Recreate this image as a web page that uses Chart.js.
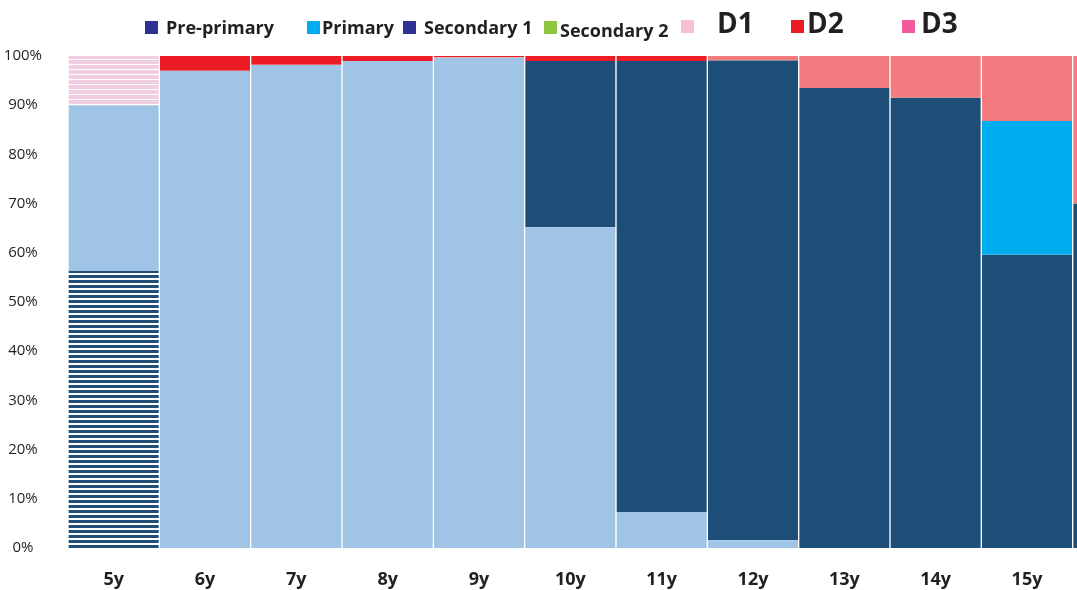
<!DOCTYPE html>
<html>
<head>
<meta charset="utf-8">
<script src="https://cdn.jsdelivr.net/npm/chart.js@4"></script>
<style>
  html, body { margin: 0; padding: 0; background: #fff; overflow: hidden; }
  #wrap { position: relative; width: 1077px; height: 590px; overflow: hidden; }
  #chart { position: absolute; left: 0; top: 0; }
  .lg { position: absolute; font-family: 'Open Sans', sans-serif; font-weight: 700; color: #231f20; white-space: nowrap; line-height: 1; }
  .sw { position: absolute; width: 13px; height: 13px; top: 21px; }
</style>
</head>
<body>
<div id="wrap">
  <canvas id="chart" width="1164" height="590"></canvas>
  <div class="sw" style="left:145px;background:#2e3192"></div>
  <div class="lg" style="left:166px;top:18px;font-size:18px">Pre-primary</div>
  <div class="sw" style="left:307px;background:#00aeef"></div>
  <div class="lg" style="left:322px;top:18px;font-size:18px">Primary</div>
  <div class="sw" style="left:403px;background:#2e3192"></div>
  <div class="lg" style="left:424px;top:18px;font-size:18px">Secondary 1</div>
  <div class="sw" style="left:544px;background:#8dc63f"></div>
  <div class="lg" style="left:560px;top:21px;font-size:18px">Secondary 2</div>
  <div class="sw" style="left:681px;top:20px;background:#f7bfd8"></div>
  <div class="lg" style="left:717px;top:8px;font-size:28px">D1</div>
  <div class="sw" style="left:791px;top:20px;background:#ed1c24"></div>
  <div class="lg" style="left:807px;top:8px;font-size:28px">D2</div>
  <div class="sw" style="left:902px;top:20px;background:#f15a9c"></div>
  <div class="lg" style="left:921px;top:8px;font-size:28px">D3</div>
</div>
<script>
// categories (last one is only partly visible at the right edge)
const ages = ['5y', '6y', '7y', '8y', '9y', '10y', '11y', '12y', '13y', '14y', '15y', '16y'];
const yTicks = [0, 10, 20, 30, 40, 50, 60, 70, 80, 90, 100];

// shares in %, stacked bottom-up
const hatchDark = [56.3, 0, 0, 0, 0, 0, 0, 0, 0, 0, 0, 0];
const lightBlue = [33.7, 97, 98.2, 99, 99.7, 65.2, 7.3, 1.6, 0, 0, 0, 0];
const darkBlue  = [0, 0, 0, 0, 0, 33.8, 91.7, 97.5, 93.5, 91.5, 59.6, 70];
const cyan      = [0, 0, 0, 0, 0, 0, 0, 0, 0, 0, 27.2, 0];
const hatchPink = [10, 0, 0, 0, 0, 0, 0, 0, 0, 0, 0, 0];
const red       = [0, 3, 1.8, 1, 0.3, 1, 1, 0, 0, 0, 0, 0];
const salmon    = [0, 0, 0, 0, 0, 0, 0, 0.9, 6.5, 8.5, 13.2, 30];

function stripes(color, on, off) {
  const c = document.createElement('canvas');
  c.width = 4; c.height = on + off;
  const g = c.getContext('2d');
  g.fillStyle = '#ffffff';
  g.fillRect(0, 0, 4, on + off);
  g.fillStyle = color;
  g.fillRect(0, 0, 4, on);
  return g.createPattern(c, 'repeat');
}

function ds(data, bg) {
  return {
    data: data,
    backgroundColor: bg,
    borderColor: '#ffffff',
    borderWidth: { left: 1, right: 1, top: 0, bottom: 0 },
    borderSkipped: false,
    barPercentage: 1,
    categoryPercentage: 1,
  };
}

new Chart(document.getElementById('chart'), {
  type: 'bar',
  data: {
    labels: ages,
    datasets: [
      ds(hatchDark, stripes('#1f4e79', 3, 2)),
      ds(lightBlue, '#9fc4e6'),
      ds(darkBlue, '#1d4e78'),
      ds(cyan, '#00aeef'),
      ds(hatchPink, stripes('#f0cde1', 4, 1)),
      ds(red, '#ed1c24'),
      ds(salmon, '#f27b7f'),
    ],
  },
  options: {
    responsive: false,
    animation: false,
    layout: { padding: { top: 56, right: 0, bottom: 0, left: 0 } },
    plugins: { legend: { display: false }, tooltip: { enabled: false } },
    scales: {
      x: {
        stacked: true,
        grid: { display: false },
        border: { display: false },
        ticks: {
          color: '#231f20',
          font: { family: 'Open Sans', size: 18, weight: 'bold' },
          padding: 13,
          maxRotation: 0,
          autoSkip: false,
        },
        afterFit: (s) => { s.height = 42; },
      },
      y: {
        stacked: true,
        min: 0,
        max: 100,
        grid: { display: false },
        border: { display: false },
        afterBuildTicks: (s) => { s.ticks = yTicks.map(v => ({ value: v })); },
        ticks: {
          color: '#231f20',
          font: { family: 'Open Sans', size: 15 },
          crossAlign: 'center',
          padding: 18,
          callback: (v) => v + '%',
        },
        afterFit: (s) => { s.width = 68; },
      },
    },
  },
});
</script>
</body>
</html>
